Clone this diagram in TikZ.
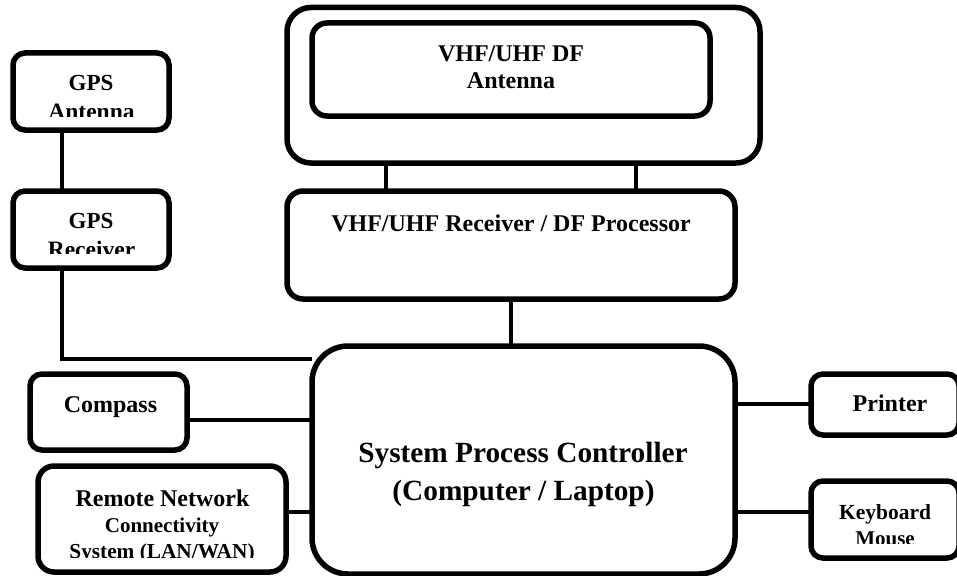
\documentclass[tikz,border=0pt]{standalone}
\usepackage{fontspec}
\setmainfont{Liberation Serif}
\tikzset{
  blockbox/.style={draw=black,line width=5.5pt,inner sep=0pt,outer sep=0pt,rectangle,rounded corners=#1},
  blockbox/.default=12pt,
  wire/.style={draw=black,line width=3.6pt,line cap=butt,line join=miter},
  lab/.style={anchor=base,inner sep=0pt,outer sep=0pt,font=\bfseries\fontsize{#1}{#1}\selectfont,text=black},
  lab/.default=24
}
\begin{document}
\begin{tikzpicture}[x=1pt,y=-1pt]
\path[use as bounding box,clip] (0,0) rectangle (957,575);
% boxes
\node[blockbox=24pt,minimum width=473pt,minimum height=155.5pt] (outer) at (523.5,85.25) {};
\node[blockbox=15pt,minimum width=398pt,minimum height=93pt] (dfant) at (511,69.5) {};
\node[blockbox=16pt,minimum width=448pt,minimum height=108pt] (rx) at (511,245) {};
\node[blockbox,minimum width=156pt,minimum height=77pt] (gpsant) at (91,91.5) {};
\node[blockbox,minimum width=156pt,minimum height=77pt] (gpsrx) at (91,229.5) {};
\node[blockbox,minimum width=157pt,minimum height=76pt] (compass) at (108.5,412) {};
\node[blockbox=16pt,minimum width=248pt,minimum height=106pt] (remote) at (162,519) {};
\node[blockbox=36pt,minimum width=423pt,minimum height=228pt] (ctrl) at (523.5,460) {};
\node[blockbox,minimum width=148pt,minimum height=61pt] (printer) at (885,404.5) {};
\node[blockbox,minimum width=148pt,minimum height=77pt] (kbd) at (885,519.5) {};
% connectors
\coordinate (gpsdrop) at (62,359);
\coordinate (gpsend) at (312,359);
\draw[wire] (gpsant.south -| gpsdrop) -- (gpsrx.north -| gpsdrop);
\draw[wire] (gpsrx.south -| gpsdrop) -- (gpsdrop) -- (gpsend);
\coordinate (linkL) at (386,0);
\coordinate (linkR) at (636,0);
\draw[wire] (outer.south -| linkL) -- (rx.north -| linkL);
\draw[wire] (outer.south -| linkR) -- (rx.north -| linkR);
\draw[wire] (rx.south) -- (ctrl.north -| rx.south);
\coordinate (rowcompass) at (0,420);
\coordinate (rowremote) at (0,512);
\coordinate (rowprinter) at (0,404);
\coordinate (rowkbd) at (0,512);
\draw[wire] (compass.east |- rowcompass) -- (ctrl.west |- rowcompass);
\draw[wire] (remote.east |- rowremote) -- (ctrl.west |- rowremote);
\draw[wire] (ctrl.east |- rowprinter) -- (printer.west |- rowprinter);
\draw[wire] (ctrl.east |- rowkbd) -- (kbd.west |- rowkbd);
% labels
\node[lab] (t1) at (511,62) {VHF/UHF DF};
\node[lab] (t2) at (511,89) {Antenna};
\node[lab] (t3) at (511,231) {VHF/UHF Receiver / DF Processor};
\node[lab=23] (t4) at (91,91) {GPS};
\begin{scope}
\clip (20,100) rectangle (160,116);
\node[lab=23.5] (t5) at (91.5,119) {Antenna};
\end{scope}
\node[lab=23] (t6) at (91,228) {GPS};
\begin{scope}
\clip (20,236) rectangle (160,253);
\node[lab=23.5] (t7) at (91.5,257) {Receiver};
\end{scope}
\node[lab] (t8) at (110.5,412) {Compass};
\node[lab] (t9) at (162.5,506) {Remote Network};
\node[lab=21] (t10) at (162,532) {Connectivity};
\begin{scope}
\clip (45,538) rectangle (280,557);
\node[lab=21.3] (t11) at (162,558) {System (LAN/WAN)};
\end{scope}
\node[lab] (t12) at (890,411) {Printer};
\node[lab=21.5] (t13) at (885,519) {Keyboard};
\begin{scope}
\clip (820,526) rectangle (950,543);
\node[lab=21] (t14) at (885,545) {Mouse};
\end{scope}
\node[lab=29.3] (t15) at (523,462) {System Process Controller};
\node[lab=29.3] (t16) at (523.5,500) {(Computer / Laptop)};
\end{tikzpicture}
\end{document}
